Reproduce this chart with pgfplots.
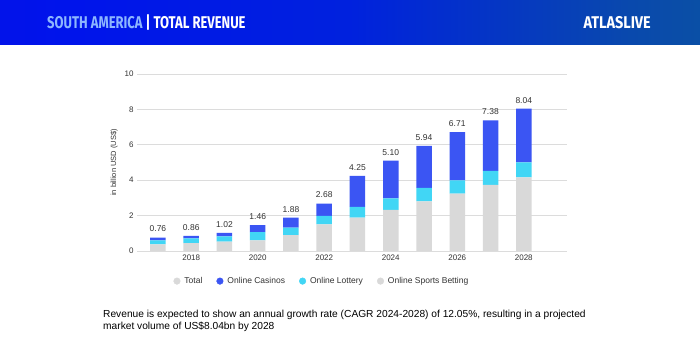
\documentclass[border=0pt]{standalone}
\usepackage{pgfplots}
\pgfplotsset{compat=1.18}
\usepackage{pgfplotstable}
\usepackage{fontspec}
\setmainfont{Liberation Sans}
\newfontfamily\headfont{Fira Sans}
\definecolor{casino}{HTML}{3B55F3}
\definecolor{lottery}{HTML}{41D6F5}
\definecolor{sports}{HTML}{D9D9D9}
\definecolor{txt}{HTML}{333333}
\definecolor{gridc}{HTML}{DCDCDC}
\pgfdeclarehorizontalshading{banner}{100bp}{
  color(0bp)=(rgb:red,0.02;green,0.02;blue,0.15);
  color(12bp)=(rgb:red,0.02;green,0.04;blue,0.55);
  color(30bp)=(rgb:red,0.0;green,0.08;blue,0.95);
  color(50bp)=(rgb:red,0.0;green,0.15;blue,1.0);
  color(70bp)=(rgb:red,0.05;green,0.4;blue,0.95);
  color(100bp)=(rgb:red,0.12;green,0.76;blue,0.88)}
\pgfplotstableread{
year sports lottery casino total
2017 0.38 0.22 0.16 0.76
2018 0.45 0.27 0.14 0.86
2019 0.53 0.30 0.19 1.02
2020 0.60 0.47 0.39 1.46
2021 0.90 0.42 0.56 1.88
2022 1.50 0.48 0.70 2.68
2023 1.88 0.61 1.76 4.25
2024 2.32 0.66 2.12 5.10
2025 2.81 0.75 2.38 5.94
2026 3.24 0.75 2.72 6.71
2027 3.73 0.79 2.86 7.38
2028 4.16 0.85 3.03 8.04
}\revdata
\pgfplotsset{commonaxis/.style={
  at={(137pt,99pt)}, anchor=south west,
  scale only axis, width=430pt, height=177pt,
  ymin=0, ymax=10, xmin=2016.37, xmax=2029.3,
  /pgf/number format/assume math mode=true}}
\begin{document}
\begin{tikzpicture}
\path[use as bounding box, fill=white] (0,0) rectangle (700pt,350pt);
\shade[shading=banner] (0,305pt) rectangle (700pt,350pt);
\node[anchor=west, inner sep=0pt] at (47pt,327pt) {\scalebox{0.765}[1]{\headfont\bfseries\fontsize{17}{17}\selectfont\color[HTML]{8DB6FF}SOUTH AMERICA \color{white}| TOTAL REVENUE}};
\node[anchor=east, inner sep=0pt] at (651pt,327pt) {\scalebox{0.85}[1]{\headfont\bfseries\fontsize{17}{17}\selectfont\color{white}ATLASLIVE}};
\begin{axis}[
  commonaxis,
  ybar stacked, bar width=15.5pt,
  ytick={0,2,...,10}, xtick={2018,2020,...,2028},
  x tick label style={/pgf/number format/1000 sep={}},
  tick label style={font=\fontsize{8}{9}\selectfont, text=txt},
  ymajorgrids, grid style={gridc, line width=0.8pt},
  axis line style={draw=none}, major tick length=0pt,
  ylabel={in billion USD (US\$)},
  ylabel style={font=\fontsize{7.5}{8}\selectfont, text=txt},
  legend columns=4,
  legend image code/.code={\fill[#1] (0.25em,0pt) circle (3.3pt);},
  legend style={at={(0.43,-0.17)}, anchor=center, draw=none, fill=none,
    font=\fontsize{8.5}{9}\selectfont, text=txt,
    /tikz/every odd column/.append style={column sep=2pt},
    /tikz/every even column/.append style={column sep=12pt}},
  legend cell align=left,
]
\addlegendimage{sports}
\addlegendentry{Total}
\addlegendimage{casino}
\addlegendentry{Online Casinos}
\addlegendimage{lottery}
\addlegendentry{Online Lottery}
\addlegendimage{sports}
\addlegendentry{Online Sports Betting}
\addplot[forget plot, fill=sports, draw=none] table[x=year, y=sports] {\revdata};
\addplot[forget plot, fill=lottery, draw=none] table[x=year, y=lottery] {\revdata};
\addplot[forget plot, fill=casino, draw=none] table[x=year, y=casino] {\revdata};
\end{axis}
\begin{axis}[commonaxis, hide axis]
\addplot[only marks, mark=none, point meta=y,
  nodes near coords={\pgfmathprintnumber[fixed, fixed zerofill, precision=2, assume math mode=true]{\pgfplotspointmeta}},
  every node near coord/.append style={font=\fontsize{8.5}{9}\selectfont, text=txt, anchor=south, yshift=2pt}]
  table[x=year, y=total] {\revdata};
\end{axis}
\node[anchor=north west, align=left, inner sep=0pt, font=\fontsize{10.2}{12}\selectfont, text=black] at (103pt,40pt)
 {Revenue is expected to show an annual growth rate (CAGR 2024-2028) of 12.05\%, resulting in a projected\\market volume of US\$8.04bn by 2028};
\end{tikzpicture}
\end{document}
